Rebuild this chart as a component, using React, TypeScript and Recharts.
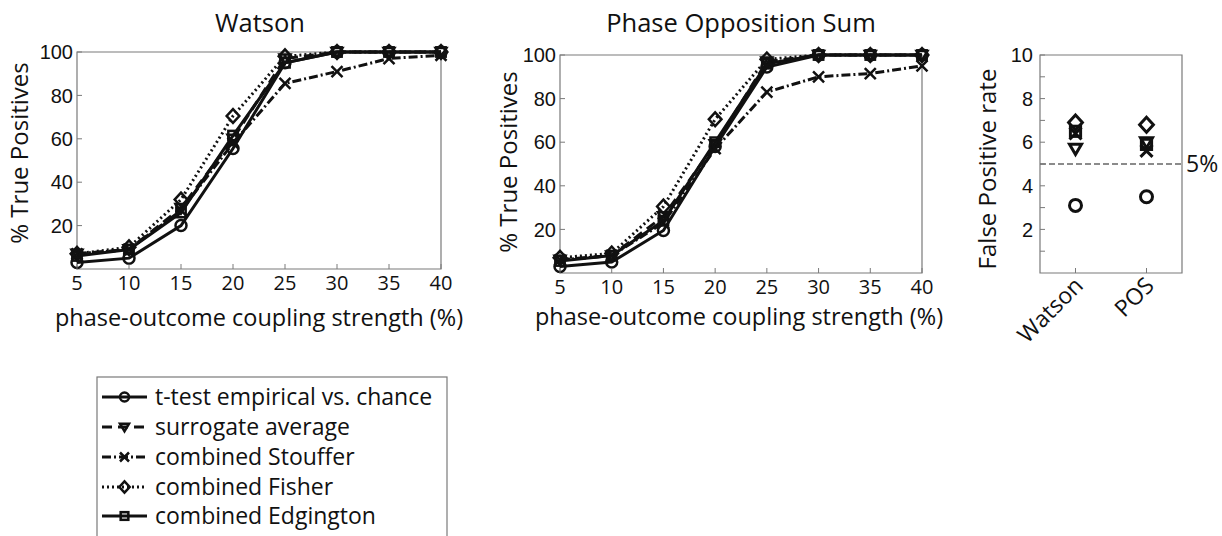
import React from "react";
import { LineChart, Line, XAxis, YAxis, ReferenceArea, ReferenceLine } from "recharts";

// ---- data ---------------------------------------------------------------
const couplingStrengths = [5, 10, 15, 20, 25, 30, 35, 40];
const truePositiveTicks = [20, 40, 60, 80, 100];

// Watson test: % true positives per method
const watsonTTest = [3, 5, 20, 55.5, 95, 100, 100, 100];
const watsonSurrogate = [7, 9, 28, 60, 97, 100, 100, 100];
const watsonStouffer = [7, 9, 27, 58, 85.5, 91, 97, 98.5];
const watsonFisher = [7, 10, 32, 70.5, 98, 100, 100, 100];
const watsonEdgington = [6, 9, 26, 61.5, 95, 100, 100, 100];

// Phase Opposition Sum: % true positives per method
const posTTest = [3, 5, 19.5, 58, 94.5, 100, 100, 100];
const posSurrogate = [6, 8, 26, 59, 97, 100, 100, 100];
const posStouffer = [6, 8, 23, 57, 83, 90, 91.5, 95];
const posFisher = [7, 9, 30.5, 70.5, 98, 100, 100, 100];
const posEdgington = [5.5, 8, 24, 60, 96, 100, 100, 100];

// False positive rates (no coupling)
const fpCategories = ["Watson", "POS"];
const fpTTest = [3.1, 3.5];
const fpSurrogate = [5.7, 6.0];
const fpStouffer = [6.4, 5.6];
const fpFisher = [6.9, 6.8];
const fpEdgington = [6.5, 5.9];
const fpTicks = [1, 2, 3, 4, 5, 6, 7, 8, 9, 10];
const fpLabelledTicks = [2, 4, 6, 8, 10];
const nominalRate = 5;

// ---- styling ------------------------------------------------------------
const INK = "#111";
const FRAME = "#7a7a7a";
const FONT_TEXT = "'Open Sans', 'Noto Sans', sans-serif";
const FONT_NUM = "'Liberation Sans', Arial, sans-serif";

type Kind = "circle" | "triangle" | "cross" | "diamond" | "square";

const methods: { id: string; name: string; kind: Kind; dash?: string }[] = [
  { id: "tTest", name: "t-test empirical vs. chance", kind: "circle" },
  { id: "surrogate", name: "surrogate average", kind: "triangle", dash: "10 6" },
  { id: "stouffer", name: "combined Stouffer", kind: "cross", dash: "9 3 2 3" },
  { id: "fisher", name: "combined Fisher", kind: "diamond", dash: "2 3" },
  { id: "edgington", name: "combined Edgington", kind: "square" },
];

function buildRows(series: Record<string, number[]>) {
  return couplingStrengths.map((x, i) => {
    const row: Record<string, number> = { x };
    Object.keys(series).forEach((k) => (row[k] = series[k][i]));
    return row;
  });
}

const watsonRows = buildRows({
  tTest: watsonTTest,
  surrogate: watsonSurrogate,
  stouffer: watsonStouffer,
  fisher: watsonFisher,
  edgington: watsonEdgington,
});

const posRows = buildRows({
  tTest: posTTest,
  surrogate: posSurrogate,
  stouffer: posStouffer,
  fisher: posFisher,
  edgington: posEdgington,
});

const fpRows = fpCategories.map((name, i) => ({
  pos: i + 1,
  name,
  tTest: fpTTest[i],
  surrogate: fpSurrogate[i],
  stouffer: fpStouffer[i],
  fisher: fpFisher[i],
  edgington: fpEdgington[i],
}));

// ---- marker glyphs ----------------------------------------------------------
function MarkerShape({
  kind,
  cx,
  cy,
  s = 5,
  sw = 2,
}: {
  kind: Kind;
  cx?: number;
  cy?: number;
  s?: number;
  sw?: number;
}) {
  if (cx == null || cy == null || isNaN(cx) || isNaN(cy)) return null;
  const common = { fill: "none", stroke: INK, strokeWidth: sw };
  switch (kind) {
    case "circle":
      return <circle cx={cx} cy={cy} r={s} {...common} />;
    case "triangle":
      return (
        <polygon
          points={`${cx - s},${cy - s * 0.75} ${cx + s},${cy - s * 0.75} ${cx},${cy + s * 0.95}`}
          {...common}
        />
      );
    case "cross":
      return (
        <path
          d={`M${cx - s},${cy - s}L${cx + s},${cy + s}M${cx - s},${cy + s}L${cx + s},${cy - s}`}
          {...common}
        />
      );
    case "diamond":
      return (
        <polygon
          points={`${cx},${cy - s * 1.25} ${cx + s * 1.15},${cy} ${cx},${cy + s * 1.25} ${cx - s * 1.15},${cy}`}
          {...common}
        />
      );
    case "square":
    default:
      return (
        <rect x={cx - s * 0.85} y={cy - s * 0.85} width={s * 1.7} height={s * 1.7} {...common} />
      );
  }
}

const dotRenderer = (kind: Kind, s: number, sw: number) => (p: any) =>
  <MarkerShape key={`${kind}-${p.index}`} kind={kind} cx={p.cx} cy={p.cy} s={s} sw={sw} />;

// ---- axis ticks (inward tick marks) ------------------------------------------
const BottomTick = (props: any) => {
  const { x, y, payload } = props;
  return (
    <g>
      <line x1={x} x2={x} y1={y} y2={y - 5} stroke={FRAME} strokeWidth={1} />
      <text x={x} y={y + 21} textAnchor="middle" fontFamily={FONT_TEXT} fontSize={20} fill={INK}>
        {payload.value}
      </text>
    </g>
  );
};

const LeftTick = (props: any) => {
  const { x, y, payload } = props;
  return (
    <g>
      <line x1={x} x2={x + 5} y1={y} y2={y} stroke={FRAME} strokeWidth={1} />
      <text
        x={x - 4}
        y={y}
        dy="0.36em"
        textAnchor="end"
        fontFamily={FONT_NUM}
        fontSize={20}
        fill={INK}
      >
        {payload.value}
      </text>
    </g>
  );
};

const FpLeftTick = (props: any) => {
  const { x, y, payload } = props;
  const show = fpLabelledTicks.includes(payload.value);
  return (
    <g>
      <line x1={x} x2={x + 5} y1={y} y2={y} stroke={FRAME} strokeWidth={1} />
      {show && (
        <text
          x={x - 7}
          y={y}
          dy="0.36em"
          textAnchor="end"
          fontFamily={FONT_NUM}
          fontSize={20}
          fill={INK}
        >
          {payload.value}
        </text>
      )}
    </g>
  );
};

const FpBottomTick = (props: any) => {
  const { x, y, payload } = props;
  const label = fpCategories[payload.value - 1];
  return (
    <g>
      <line x1={x} x2={x} y1={y} y2={y - 5} stroke={FRAME} strokeWidth={1} />
      <text
        transform={`translate(${x + 9},${y + 14}) rotate(-45)`}
        textAnchor="end"
        fontFamily={FONT_TEXT}
        fontSize={23}
        fill={INK}
      >
        {label}
      </text>
    </g>
  );
};

// ---- panels -----------------------------------------------------------------
function CurvePanel({
  rows,
  width,
  height,
  top,
  right,
  yAxisWidth,
  xAxisHeight,
}: {
  rows: Record<string, number>[];
  width: number;
  height: number;
  top: number;
  right: number;
  yAxisWidth: number;
  xAxisHeight: number;
}) {
  return (
    <LineChart width={width} height={height} data={rows} margin={{ top, right, bottom: 0, left: 0 }}>
      <XAxis
        dataKey="x"
        type="number"
        domain={[5, 40]}
        ticks={couplingStrengths}
        interval={0}
        height={xAxisHeight}
        axisLine={false}
        tickLine={false}
        tickSize={0}
        tickMargin={0}
        tick={<BottomTick />}
      />
      <YAxis
        type="number"
        domain={[0, 100]}
        ticks={truePositiveTicks}
        interval={0}
        width={yAxisWidth}
        axisLine={false}
        tickLine={false}
        tickSize={0}
        tickMargin={0}
        tick={<LeftTick />}
      />
      <ReferenceArea x1={5} x2={40} y1={0} y2={100} fill="none" stroke={FRAME} strokeWidth={1.2} />
      {methods
        .slice()
        .reverse()
        .map((m) => (
          <Line
            key={m.id}
            dataKey={m.id}
            name={m.name}
            stroke={INK}
            strokeWidth={3}
            strokeDasharray={m.dash}
            dot={dotRenderer(m.kind, 5.5, 2.5)}
            activeDot={false}
            isAnimationActive={false}
          />
        ))}
    </LineChart>
  );
}

function FalsePositivePanel() {
  return (
    <LineChart width={262} height={360} data={fpRows} margin={{ top: 55, right: 40, bottom: 0, left: 0 }}>
      <XAxis
        dataKey="pos"
        type="number"
        domain={[0.5, 2.5]}
        ticks={[1, 2]}
        interval={0}
        height={87}
        axisLine={false}
        tickLine={false}
        tickSize={0}
        tickMargin={0}
        tick={<FpBottomTick />}
      />
      <YAxis
        type="number"
        domain={[0, 10]}
        ticks={fpTicks}
        interval={0}
        width={80}
        axisLine={false}
        tickLine={false}
        tickSize={0}
        tickMargin={0}
        tick={<FpLeftTick />}
      />
      <ReferenceArea x1={0.5} x2={2.5} y1={0} y2={10} fill="none" stroke={FRAME} strokeWidth={1.2} />
      <ReferenceLine
        y={nominalRate}
        stroke="#666"
        strokeWidth={1.3}
        strokeDasharray="6 3"
        label={{
          value: "5%",
          position: "right",
          offset: 4,
          fill: INK,
          fontSize: 23,
          fontFamily: FONT_TEXT,
        }}
      />
      {methods.map((m) => (
        <Line
          key={m.id}
          dataKey={m.id}
          name={m.name}
          stroke="none"
          strokeWidth={0}
          dot={dotRenderer(m.kind, 6, 3)}
          activeDot={false}
          isAnimationActive={false}
        />
      ))}
    </LineChart>
  );
}

// ---- legend -----------------------------------------------------------------
function MethodLegend() {
  const rowY = [397, 427, 457, 487, 516];
  return (
    <g>
      <rect x={97} y={377} width={350} height={170} fill="#fff" stroke={FRAME} strokeWidth={1.2} />
      {methods.map((m, i) => (
        <g key={m.id}>
          <line
            x1={102}
            x2={147}
            y1={rowY[i]}
            y2={rowY[i]}
            stroke={INK}
            strokeWidth={3}
            strokeDasharray={m.dash}
          />
          <MarkerShape kind={m.kind} cx={124.5} cy={rowY[i]} s={4.5} sw={2.5} />
          <text
            x={155}
            y={rowY[i]}
            dy="0.35em"
            fontFamily={FONT_TEXT}
            fontSize={23}
            fill={INK}
          >
            {m.name}
          </text>
        </g>
      ))}
    </g>
  );
}

export default function App() {
  const text = { fontFamily: FONT_TEXT, fill: INK };
  return (
    <div
      style={{
        position: "absolute",
        left: 0,
        top: 0,
        width: 1222,
        height: 536,
        background: "#fff",
        overflow: "hidden",
      }}
    >
      <div style={{ position: "absolute", left: 0, top: 0 }}>
        <CurvePanel
          rows={watsonRows}
          width={470}
          height={300}
          top={52}
          right={29}
          yAxisWidth={77}
          xAxisHeight={31}
        />
      </div>
      <div style={{ position: "absolute", left: 480, top: 0 }}>
        <CurvePanel
          rows={posRows}
          width={460}
          height={310}
          top={55}
          right={18}
          yAxisWidth={80}
          xAxisHeight={37}
        />
      </div>
      <div style={{ position: "absolute", left: 960, top: 0 }}>
        <FalsePositivePanel />
      </div>
      <svg
        width={1222}
        height={536}
        style={{ position: "absolute", left: 0, top: 0, pointerEvents: "none" }}
      >
        <text x={260} y={32} textAnchor="middle" fontSize={25.5} {...text}>
          Watson
        </text>
        <text x={741} y={32} textAnchor="middle" fontSize={25.5} {...text}>
          Phase Opposition Sum
        </text>
        <text x={259} y={326} textAnchor="middle" fontSize={23.5} {...text}>
          phase-outcome coupling strength (%)
        </text>
        <text x={739} y={325} textAnchor="middle" fontSize={23.5} {...text}>
          phase-outcome coupling strength (%)
        </text>
        <text transform="translate(28,153) rotate(-90)" textAnchor="middle" fontSize={24} {...text}>
          % True Positives
        </text>
        <text transform="translate(517,162) rotate(-90)" textAnchor="middle" fontSize={24} {...text}>
          % True Positives
        </text>
        <text transform="translate(996,169) rotate(-90)" textAnchor="middle" fontSize={24} {...text}>
          False Positive rate
        </text>
        <MethodLegend />
      </svg>
    </div>
  );
}
